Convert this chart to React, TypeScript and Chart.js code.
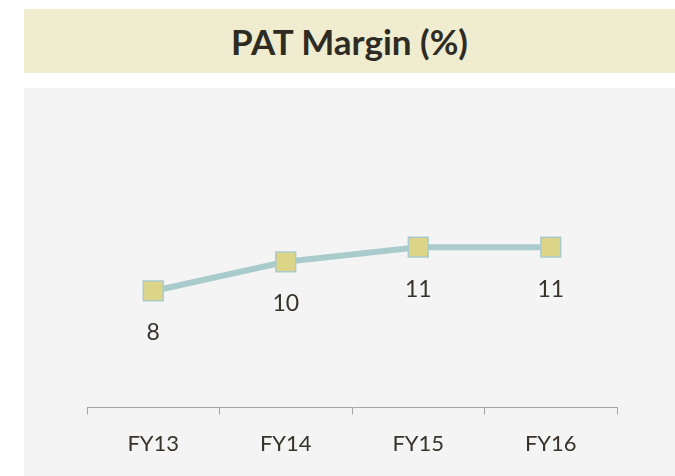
import React, { useEffect, useRef } from "react";
import { Chart, registerables } from "chart.js";

Chart.register(...registerables);

const title = "PAT Margin (%)";
const categories = ["FY13", "FY14", "FY15", "FY16"];
const patMargin = [8, 10, 11, 11];

const labelPlugin = {
  id: "valueLabels",
  afterDatasetsDraw(chart: any) {
    const ctx = chart.ctx;
    const meta = chart.getDatasetMeta(0);
    ctx.save();
    ctx.font = "23px Lato, 'Open Sans', sans-serif";
    ctx.fillStyle = "#37332a";
    ctx.textAlign = "center";
    ctx.textBaseline = "middle";
    meta.data.forEach((pt: any, i: number) => {
      ctx.fillText(String(patMargin[i]), pt.x, pt.y + 42);
    });
    ctx.restore();
  },
};

export default function App() {
  const ref = useRef<HTMLCanvasElement>(null);
  useEffect(() => {
    if (!ref.current) return;
    const chart = new Chart(ref.current, {
      type: "line",
      data: {
        labels: categories,
        datasets: [
          {
            data: patMargin,
            borderColor: "#a9cbcb",
            borderWidth: 6,
            pointStyle: "rect",
            pointRadius: 14,
            pointBackgroundColor: "#dcd487",
            pointBorderColor: "#a9cbcb",
            pointBorderWidth: 1.5,
            tension: 0,
          },
        ],
      },
      options: {
        animation: false,
        responsive: false,
        maintainAspectRatio: false,
        layout: { padding: { left: 63, right: 58, top: 28, bottom: 3 } },
        plugins: { legend: { display: false }, tooltip: { enabled: false } },
        scales: {
          x: {
            offset: true,
            grid: {
              offset: true,
              drawOnChartArea: false,
              drawTicks: true,
              tickLength: 7,
              color: "#a6a6a6",
            },
            border: { display: true, color: "#a6a6a6", width: 1 },
            ticks: {
              padding: 16,
              color: "#37332a",
              font: { family: "Lato, 'Open Sans', sans-serif", size: 22 },
            },
          },
          y: { display: false, min: 0, max: 20 },
        },
      },
      plugins: [labelPlugin],
    });
    return () => chart.destroy();
  }, []);

  return (
    <div>
      <div
        style={{
          position: "absolute",
          left: 24,
          top: 9,
          width: 651,
          height: 64,
          background: "#f0ecd0",
          display: "flex",
          alignItems: "center",
          justifyContent: "center",
          fontFamily: "Lato, 'Open Sans', sans-serif",
          fontWeight: 700,
          fontSize: 35,
          color: "#2e2b22",
        }}
      >
        {title}
      </div>
      <div
        style={{
          position: "absolute",
          left: 24,
          top: 88,
          width: 651,
          height: 388,
          background: "#f4f4f4",
        }}
      >
        <canvas ref={ref} width={651} height={388} style={{ display: "block" }} />
      </div>
    </div>
  );
}
